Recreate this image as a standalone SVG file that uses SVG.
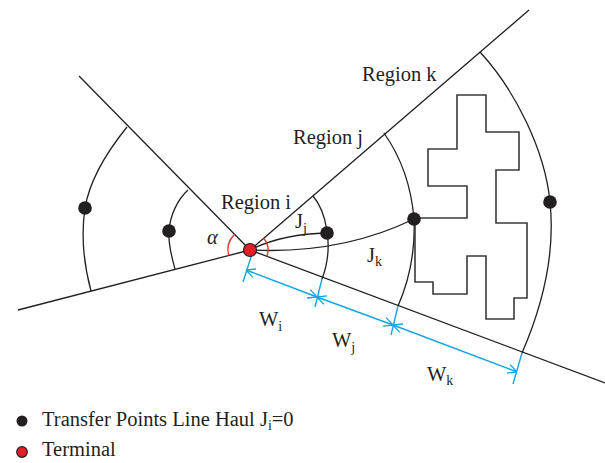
<svg xmlns="http://www.w3.org/2000/svg" width="605" height="463" viewBox="0 0 605 463">
<style>
  .ln{stroke:#231f20;stroke-width:1.3;fill:none}
  .bld{stroke:#3a3a3a;stroke-width:1.6;fill:none}
  .dim{stroke:#12a5e6;stroke-width:1.4;fill:none}
  .ang{stroke:#e8322a;stroke-width:1.4;fill:none}
  .dot{fill:#231f20}
  .term{fill:#e41e26;stroke:#231f20;stroke-width:1.2}
  .t{font-family:"Liberation Serif","Times New Roman",serif;font-size:20.5px;fill:#231f20}
  .s{font-size:14px}
</style>
<defs>
  <marker id="arr" viewBox="0 0 10 10" refX="10" refY="5" markerWidth="10" markerHeight="10" markerUnits="userSpaceOnUse" orient="auto-start-reverse">
    <path d="M1,0.5 L10,5 L1,9.5" fill="none" stroke="#12a5e6" stroke-width="1.3"/>
  </marker>
</defs>

<g id="rays">
  <line class="ln" x1="250" y1="250" x2="529" y2="10"/>
  <line class="ln" x1="250" y1="250" x2="605" y2="383"/>
  <line class="ln" x1="250" y1="250" x2="79" y2="76"/>
  <line class="ln" x1="250" y1="250" x2="18" y2="310"/>
</g>

<g id="arcs">
  <path class="ln" d="M188,190 C178,199 170,215 169,231 C168,245 172,258 175,269"/>
  <path class="ln" d="M127,127 C110,148 90,178 85,208 C81,235 84,265 91,291"/>
  <path class="ln" d="M313,196 C325,210 335,245 322,279"/>
  <path class="ln" d="M384,133 Q410,170 414,219 Q416,265 398,306"/>
  <path class="ln" d="M480,52 C515,90 545,150 550,202 C555,250 545,300 522,353"/>
</g>

<g id="building">
  <polygon class="bld" points="457,95 486,95 486,132 519,132 519,170 496,170 496,223 527,223 527,298 514,298 514,319 486,319 486,256 467,256 467,294 433,294 433,282 415,282 415,218 467,218 467,186 428,186 428,149 457,149"/>
</g>

<g id="connectors">
  <path class="ln" d="M250,250 Q282,234 327,233"/>
  <path class="ln" d="M250,250 C290,252 350,250 414,219"/>
</g>

<g id="angle-alpha">
  <path class="ang" d="M228.7,255.5 A22,22 0 0 1 234.6,234.3"/>
  <path class="ang" d="M263.6,238.3 A18,18 0 0 1 266.8,256.4"/>
</g>

<g id="dimensions">
  <line class="dim" x1="252" y1="254" x2="243" y2="282"/>
  <line class="dim" x1="322" y1="279" x2="315" y2="307"/>
  <line class="dim" x1="398" y1="306" x2="391" y2="335"/>
  <line class="dim" x1="522" y1="353" x2="513" y2="384"/>
  <line class="dim" x1="246" y1="270" x2="317" y2="297" marker-start="url(#arr)" marker-end="url(#arr)"/>
  <line class="dim" x1="317" y1="297" x2="393" y2="325" marker-start="url(#arr)" marker-end="url(#arr)"/>
  <line class="dim" x1="393" y1="325" x2="517" y2="372" marker-start="url(#arr)" marker-end="url(#arr)"/>
</g>

<g id="transfer-points">
  <circle class="dot" cx="169" cy="231" r="6.8"/>
  <circle class="dot" cx="85" cy="208" r="6.8"/>
  <circle class="dot" cx="327" cy="233" r="6.8"/>
  <circle class="dot" cx="414" cy="219" r="6.8"/>
  <circle class="dot" cx="550" cy="202" r="6.8"/>
</g>

<g id="terminal">
  <circle class="term" cx="250" cy="250" r="6.5"/>
</g>

<g id="labels">
  <text class="t" x="362" y="81">Region k</text>
  <text class="t" x="293" y="144">Region j</text>
  <text class="t" x="221" y="208.5">Region i</text>
  <text class="t" x="207" y="243.5" font-style="italic">α</text>
  <text class="t" x="295" y="228">J<tspan class="s" dy="5">j</tspan></text>
  <text class="t" x="367" y="262">J<tspan class="s" dy="4">k</tspan></text>
  <text class="t" x="259" y="326">W<tspan class="s" dy="5">i</tspan></text>
  <text class="t" x="332" y="347">W<tspan class="s" dy="5">j</tspan></text>
  <text class="t" x="427" y="381">W<tspan class="s" dy="4">k</tspan></text>
</g>

<g id="legend">
  <circle class="dot" cx="22" cy="421" r="5.5"/>
  <text class="t" x="42" y="426">Transfer Points Line Haul J<tspan class="s" dy="4">i</tspan><tspan dy="-4">=0</tspan></text>
  <circle class="term" cx="22" cy="452" r="5.3"/>
  <text class="t" x="42" y="456">Terminal</text>
</g>
</svg>
